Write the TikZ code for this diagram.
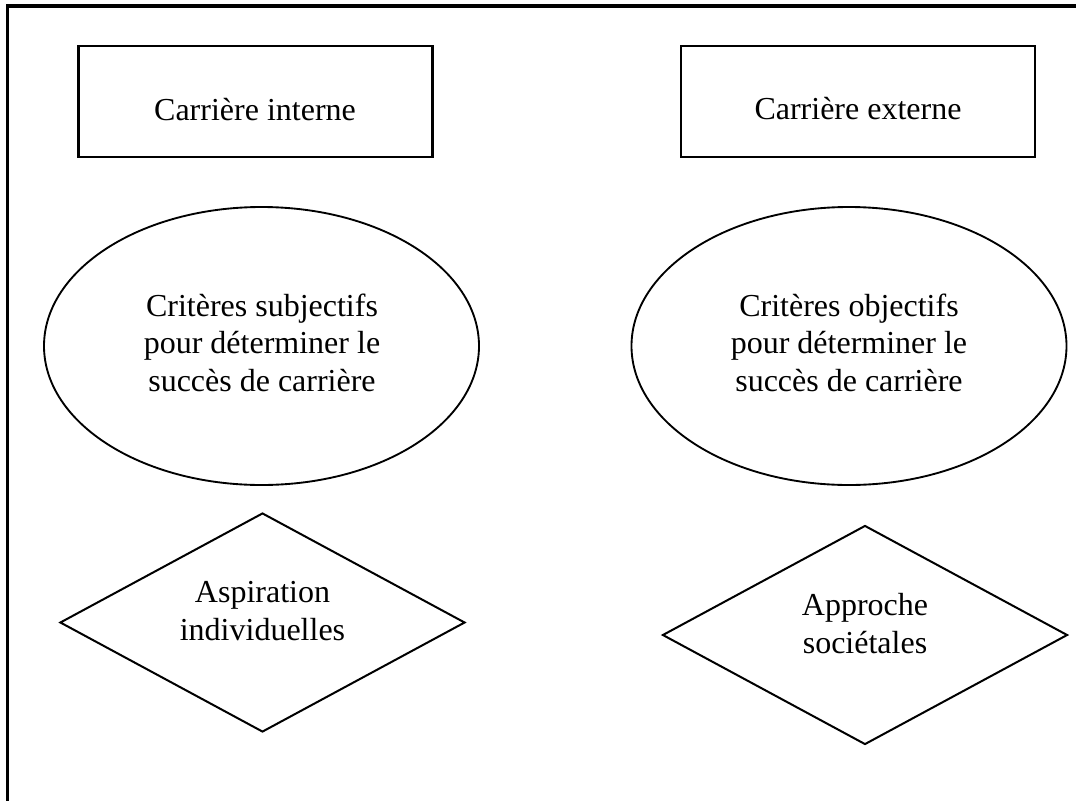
\documentclass[tikz,border=0pt]{standalone}
\usepackage{fontspec}
\setmainfont{Liberation Serif}
\usetikzlibrary{shapes.geometric}

\tikzset{
  shapebox/.style={draw, line width=1.8pt, rectangle, inner sep=0pt,
    minimum width=265.5pt, minimum height=83.25pt},
  oval/.style={draw, line width=1.4pt, ellipse, inner sep=0pt,
    minimum width=326.25pt, minimum height=208.5pt},
  rhomb/.style={draw, line width=1.5pt, diamond, inner sep=0pt,
    minimum width=303.75pt, minimum height=164.25pt},
  % base anchor of a multi-line caption sits on its last line
  caption/.style={anchor=base, inner sep=0pt, align=center,
    font=\fontsize{24}{28.1}\selectfont},
  frameline/.style={line width=2.6pt}
}

\begin{document}
\begin{tikzpicture}[x=0.75pt, y=-0.75pt]
  \useasboundingbox (0,0) rectangle (1076,801);

  % open frame: top and left edges
  \coordinate (fa) at (1076,6);
  \coordinate (fb) at (7.5,6);
  \coordinate (fc) at (7.5,801);
  \draw[frameline] (fa) -- (fb) -- (fc);

  % boxes
  \node[shapebox] (boxint) at (255.5,101.5) {};
  \node[shapebox] (boxext) at (858,101.5) {};
  \node[caption] (tint) at (255,120) {Carrière interne};
  \node[caption] (text) at (858,119) {Carrière externe};

  % ellipses
  \node[oval] (ovsub) at (261.5,346) {};
  \node[oval] (ovobj) at (849,346) {};
  \node[caption] (tsub) at (262,391) {Critères subjectifs\\pour déterminer le\\succès de carrière};
  \node[caption] (tobj) at (849,391) {Critères objectifs\\pour déterminer le\\succès de carrière};

  % diamonds
  \node[rhomb] (dmind) at (262.5,622.5) {};
  \node[rhomb] (dmsoc) at (865,635) {};
  \node[caption] (tind) at (262.5,640) {Aspiration\\individuelles};
  \node[caption] (tsoc) at (865,653) {Approche\\sociétales};
\end{tikzpicture}
\end{document}
